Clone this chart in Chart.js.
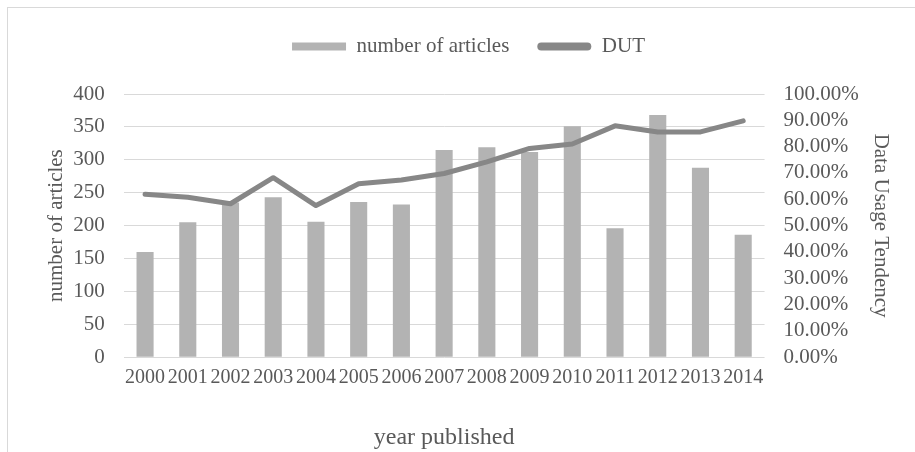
<!DOCTYPE html>
<html>
<head>
<meta charset="utf-8">
<script src="https://cdn.jsdelivr.net/npm/chart.js@4"></script>
<style>
  html, body { margin: 0; padding: 0; background: #fff; }
  #wrap { position: relative; width: 915px; height: 452px; overflow: hidden; }
  #frame { position: absolute; left: 7px; top: 7px; right: -10px; bottom: -10px;
           border-left: 1px solid #d9d9d9; border-top: 1px solid #d9d9d9; }
  canvas { position: absolute; left: 0; top: 0; }
</style>
</head>
<body>
<div id="wrap">
  <div id="frame"></div>
  <canvas id="chart" width="915" height="452"></canvas>
</div>
<script>
// publications per year and the usage tendency (in %)
const years = ['2000', '2001', '2002', '2003', '2004', '2005', '2006', '2007',
               '2008', '2009', '2010', '2011', '2012', '2013', '2014'];
const articles = [160, 205, 235, 243, 206, 236, 232, 315, 319, 312, 351, 196, 368, 288, 186];
const dut = [61.9, 60.8, 58.3, 68.2, 57.6, 65.9, 67.3, 69.8, 74.2, 79.3, 81.0, 87.9, 85.6, 85.6, 89.8];

const barColor = '#b3b3b3';
const lineColor = '#878787';
const textColor = '#595959';

Chart.defaults.font.family = "'Liberation Serif', 'Times New Roman', serif";
Chart.defaults.font.size = 20;
Chart.defaults.color = textColor;

// extra room between legend and plot area
const legendGap = {
    id: 'legendGap',
    beforeInit(chart) {
        const fit = chart.legend.fit;
        chart.legend.fit = function () {
            fit.bind(chart.legend)();
            this.height += 27;
        };
    }
};

let canvas_ctx = document.getElementById('chart').getContext('2d');

let chart = new Chart(canvas_ctx, {
    type: 'bar',
    data: {
        labels: years,
        datasets: [{
            label: 'number of articles',
            data: articles,
            backgroundColor: barColor,
            barPercentage: 0.4,
            categoryPercentage: 1,
            yAxisID: 'y',
            order: 1
        }, {
            type: 'line',
            label: 'DUT',
            data: dut,
            borderColor: lineColor,
            backgroundColor: lineColor,
            borderWidth: 5,
            borderCapStyle: 'round',
            borderJoinStyle: 'round',
            pointRadius: 0,
            tension: 0,
            yAxisID: 'y1',
            order: 0
        }]
    },
    options: {
        responsive: false,
        animation: false,
        devicePixelRatio: 1,
        layout: { padding: { left: 44, right: 22, top: 8, bottom: 0 } },
        plugins: {
            tooltip: { enabled: false },
            legend: {
                position: 'top',
                labels: {
                    font: { size: 21 },
                    boxWidth: 54,
                    boxHeight: 8,
                    padding: 28,
                    useBorderRadius: true,
                    generateLabels: function (c) {
                        return c.data.datasets.map((ds, i) => ({
                            text: ds.label,
                            fillStyle: ds.backgroundColor,
                            strokeStyle: ds.backgroundColor,
                            lineWidth: 0,
                            borderRadius: ds.type === 'line' ? 4 : 0,
                            fontColor: textColor,
                            datasetIndex: i
                        }));
                    }
                }
            }
        },
        scales: {
            x: {
                grid: { display: false },
                border: { display: false },
                ticks: { padding: 1, maxRotation: 0, autoSkip: false },
                title: { display: true, text: 'year published', font: { size: 24 },
                         padding: { top: 32, bottom: 0 } }
            },
            y: {
                position: 'left',
                min: 0,
                max: 400,
                ticks: { stepSize: 50, padding: 19, autoSkip: false, font: { size: 21 } },
                grid: { color: '#d9d9d9', lineWidth: 1, drawTicks: false },
                border: { display: false },
                title: { display: true, text: 'number of articles', font: { size: 21 },
                         padding: { top: 0, bottom: -15 } }
            },
            y1: {
                position: 'right',
                min: 0,
                max: 100,
                ticks: {
                    stepSize: 10,
                    padding: 19,
                    autoSkip: false,
                    font: { size: 21 },
                    callback: v => v.toFixed(2) + '%'
                },
                grid: { display: false, drawTicks: false },
                border: { display: false },
                title: { display: true, text: 'Data Usage Tendency', font: { size: 21 },
                         padding: { top: 0, bottom: -10 } }
            }
        }
    },
    plugins: [legendGap]
});
</script>
</body>
</html>
